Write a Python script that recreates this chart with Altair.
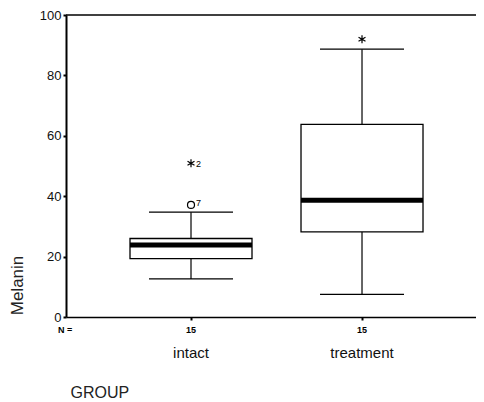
import altair as alt
import pandas as pd

groups = ["intact", "treatment"]
n_counts = ["15", "15"]
lower_whisker = [12.6, 7.5]
q1 = [19.3, 28.2]
median = [23.8, 38.7]
q3 = [26.0, 63.8]
upper_whisker = [34.7, 88.7]

outlier_groups = ["intact"]
outlier_values = [37.1]
outlier_labels = ["7"]

extreme_groups = ["intact", "treatment"]
extreme_values = [50.9, 92.0]
extreme_labels = ["2", ""]

y_ticks = [0, 20, 40, 60, 80, 100]
y_max = 100

W, H = 410, 302
FONT = "Liberation Sans"

box_df = pd.DataFrame({
    "group": groups, "lower": lower_whisker, "q1": q1, "median": median,
    "q3": q3, "upper": upper_whisker, "n": n_counts,
})
out_df = pd.DataFrame({"group": outlier_groups, "value": outlier_values, "label": outlier_labels})
ext_df = pd.DataFrame({"group": extreme_groups, "value": extreme_values, "label": extreme_labels})
top_df = pd.DataFrame({"v": [y_max]})
nlab_df = pd.DataFrame({"t": ["N ="]})

x_scale = alt.Scale(domain=groups, paddingInner=0, paddingOuter=0.1988, align=0.581)
y_scale = alt.Scale(domain=[0, y_max], nice=False)

x_axis = alt.Axis(
    title="GROUP", titleAnchor="start", titleX=4, titleY=80, titleBaseline="alphabetic",
    titleFontSize=16, titleFontWeight="normal", titleFont=FONT, titleColor="#222",
    labelFontSize=15, labelFont=FONT, labelColor="#111", labelPadding=25, labelAngle=0,
    tickSize=3, tickWidth=2, tickColor="black", domainColor="black", domainWidth=1.5,
)
y_axis = alt.Axis(
    values=y_ticks, title="Melanin", titleX=-49, titleY=270, titleAngle=270,
    titleAlign="center", titleBaseline="middle", titleFontSize=17, titleFontWeight="normal",
    titleFont=FONT, titleColor="#222",
    labelFontSize=13, labelFont=FONT, labelColor="#111", labelPadding=2, labelFlush=False,
    tickSize=3, tickWidth=2, tickColor="black", domainColor="black", domainWidth=2, grid=False,
)

def X():
    return alt.X("group:N", scale=x_scale, axis=x_axis)

def Y(field):
    return alt.Y(f"{field}:Q", scale=y_scale, axis=y_axis)

base = alt.Chart(box_df)

top_rule = alt.Chart(top_df).mark_rule(color="black", strokeWidth=1.5).encode(
    y=Y("v"), x=alt.value(0), x2=alt.value(W)
)
whisk_up = base.mark_rule(color="black", strokeWidth=1.2).encode(x=X(), y=Y("q3"), y2="upper:Q")
whisk_lo = base.mark_rule(color="black", strokeWidth=1.2).encode(x=X(), y=Y("lower"), y2="q1:Q")
cap_up = base.mark_tick(color="black", size=84, thickness=1.2, opacity=1).encode(x=X(), y=Y("upper"))
cap_lo = base.mark_tick(color="black", size=84, thickness=1.2, opacity=1).encode(x=X(), y=Y("lower"))
box = base.mark_bar(size=122, fill="white", stroke="black", strokeWidth=1.3, opacity=1).encode(
    x=X(), y=Y("q1"), y2="q3:Q"
)
med = base.mark_tick(color="black", size=122, thickness=5, opacity=1).encode(x=X(), y=Y("median"))

outliers = alt.Chart(out_df).mark_point(
    shape="circle", filled=False, size=49, color="black", strokeWidth=1.2, opacity=1
).encode(x=X(), y=Y("value"))
out_lab = alt.Chart(out_df).mark_text(
    align="left", dx=5, dy=-2, fontSize=9, font=FONT, color="black"
).encode(x=X(), y=Y("value"), text="label:N")

asterisk = "M0,-1L0,1M-0.87,-0.5L0.87,0.5M-0.87,0.5L0.87,-0.5"
extremes = alt.Chart(ext_df).mark_point(
    shape=asterisk, filled=False, size=64, color="black", strokeWidth=1.2, opacity=1
).encode(x=X(), y=Y("value"))
ext_lab = alt.Chart(ext_df).mark_text(
    align="left", dx=5, dy=1, fontSize=9, font=FONT, color="black"
).encode(x=X(), y=Y("value"), text="label:N")

n_text = base.mark_text(fontSize=9, fontWeight="bold", font=FONT, color="black", baseline="middle").encode(
    x=X(), y=alt.value(H + 13), text="n:N"
)
n_head = alt.Chart(nlab_df).mark_text(
    fontSize=9, fontWeight="bold", font=FONT, color="black", align="left", baseline="middle"
).encode(x=alt.value(-8), y=alt.value(H + 13), text="t:N")

chart = alt.layer(
    top_rule, whisk_up, whisk_lo, cap_up, cap_lo, box, med,
    outliers, out_lab, extremes, ext_lab, n_text, n_head
).properties(
    width=W, height=H,
    autosize=alt.AutoSizeParams(type="none"),
    padding={"left": 58, "top": 7, "right": 0, "bottom": 83},
    background="white",
).configure_view(stroke=None)

chart.save("out.html", embed_options={"renderer": "svg", "actions": False})
